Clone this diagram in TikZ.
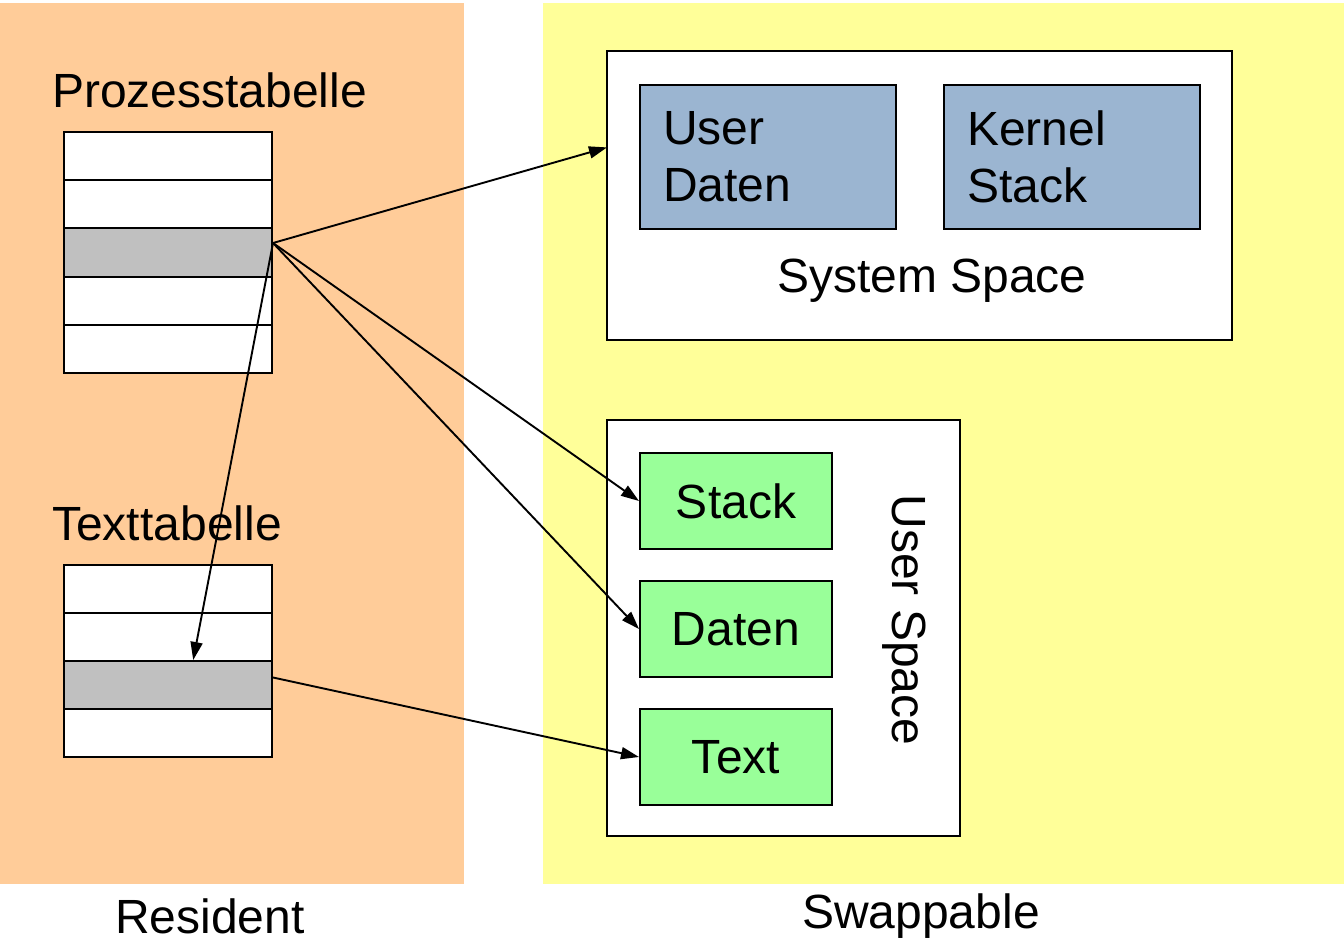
\documentclass[tikz,border=0pt]{standalone}
\usepackage{fontspec}
\setmainfont{Liberation Sans}
\usetikzlibrary{arrows.meta,calc}
\definecolor{resbg}{RGB}{255,204,153}
\definecolor{swapbg}{RGB}{255,255,153}
\definecolor{sysblue}{RGB}{155,181,209}
\definecolor{usrgreen}{RGB}{153,255,153}
\definecolor{rowgray}{RGB}{192,192,192}
\tikzset{
  big/.style={font=\fontsize{48pt}{57pt}\selectfont},
  frame/.style={draw=black,line width=2pt,fill=white,inner sep=0pt},
  row/.style={draw=black,line width=2pt,fill=white,minimum width=208pt,minimum height=48pt,inner sep=0pt,anchor=north west},
  hotrow/.style={row,fill=rowgray},
  sysbox/.style={draw=black,line width=2pt,fill=sysblue,minimum width=256pt,minimum height=144pt,
    text width=210pt,inner xsep=23pt,inner ysep=0pt,align=left,anchor=north west,big},
  usrbox/.style={draw=black,line width=2pt,fill=usrgreen,minimum width=192pt,minimum height=96pt,
    inner sep=0pt,anchor=north west,big},
  link/.style={line width=1.9pt,-{Triangle[length=18pt,width=12pt]}},
  caption/.style={big,inner sep=0pt}
}
\begin{document}
\begin{tikzpicture}[x=1pt,y=-1pt]
\useasboundingbox (0,0) rectangle (1344,944);
% background regions
\fill[resbg] (0,3) rectangle (464,884);
\fill[swapbg] (543,3) rectangle (1344,884);

% process table
\node[caption,anchor=base west] (ptlabel) at (52,108) {Prozesstabelle};
\node[row] (p1) at (63,131.5) {};
\node[row] (p2) at (63,179.5) {};
\node[hotrow] (p3) at (63,227.5) {};
\node[row] (p4) at (63,275.5) {};
\node[row] (p5) at (63,323.5) {};

% text table
\node[caption,anchor=base west] (ttlabel) at (52,540) {Texttabelle};
\node[row] (t1) at (63,564) {};
\node[row] (t2) at (63,612) {};
\node[hotrow] (t3) at (63,660) {};
\node[row] (t4) at (63,708) {};

% system space
\draw[frame] (607,51.5) rectangle (1231.5,339.5);
\coordinate (sysNW) at (607,51.5);
\coordinate (sysSW) at (607,339.5);
\node[sysbox] (udaten) at (639,84) {User\\Daten};
\node[sysbox] (kstack) at (943,84) {Kernel\\Stack};
\node[caption,anchor=base] (syslabel) at (932,292) {System Space};

% user space
\draw[frame] (607,420) rectangle (959.5,835.5);
\node[usrbox] (stack) at (639,452) {Stack};
\node[usrbox] (daten) at (639,580) {Daten};
\node[usrbox] (text) at (639,708) {Text};
\node[caption,anchor=base,rotate=-90] (usrlabel) at (892,620) {User Space};

% region captions
\node[caption,anchor=base] (resident) at (210,933) {Resident};
\node[caption,anchor=base] (swappable) at (921,928) {Swappable};

% connectors
\coordinate (src) at ($(p3.north east)!0.31!(p3.south east)$);
\coordinate (txsrc) at ($(t3.north east)!0.35!(t3.south east)$);
\coordinate (txdst) at ($(t3.north west)!0.62!(t3.north east)$);
\coordinate (sysin) at ($(sysNW)!0.333!(sysSW)$);
\draw[link] (src) -- (sysin);
\draw[link] (src) -- (stack.west);
\draw[link] (src) -- (daten.west);
\draw[link] (src) -- (txdst);
\draw[link] (txsrc) -- (text.west);
\end{tikzpicture}
\end{document}
